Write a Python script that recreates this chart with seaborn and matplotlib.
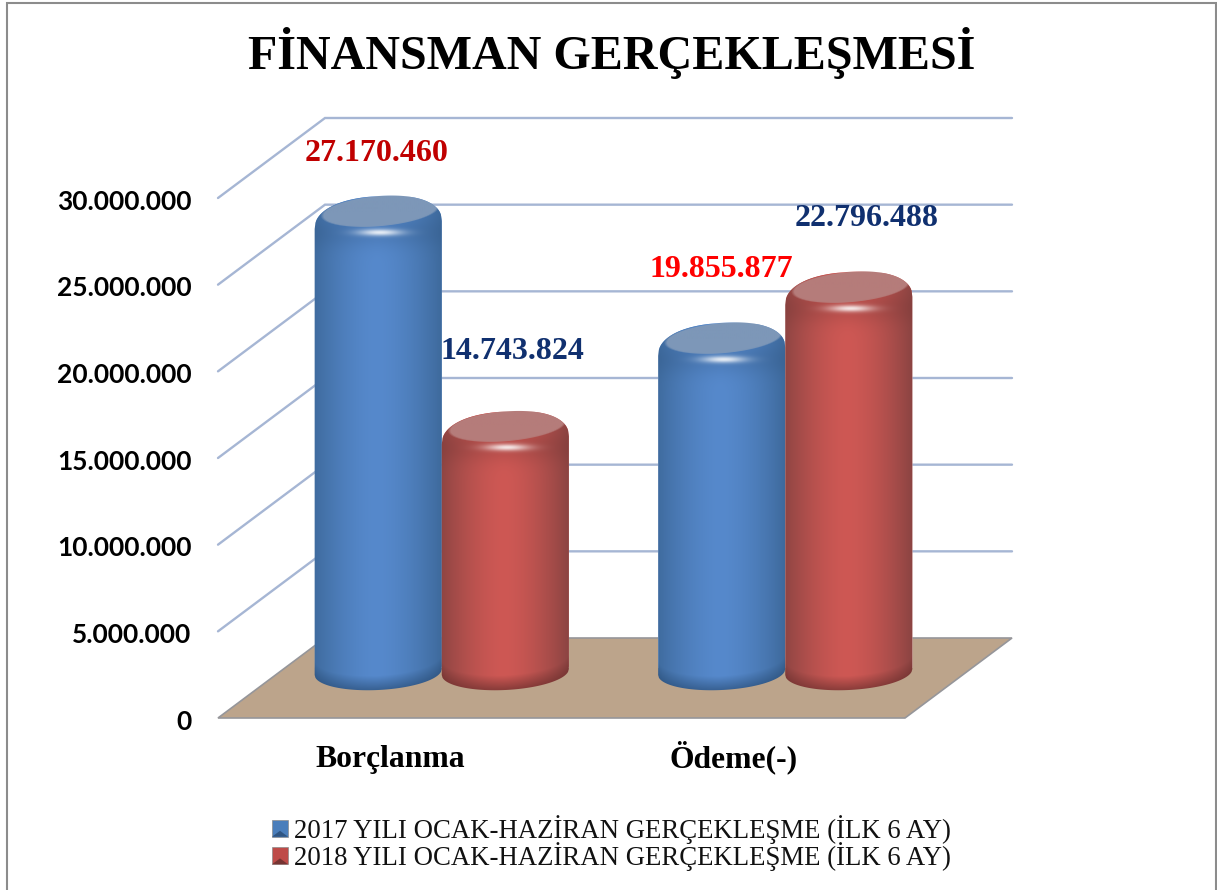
import numpy as np
import pandas as pd
import matplotlib
matplotlib.use("Agg")
import matplotlib.pyplot as plt
from matplotlib.legend_handler import HandlerBase
from matplotlib.lines import Line2D
from matplotlib.patches import Patch, Polygon
from matplotlib.path import Path
from matplotlib.ticker import FuncFormatter
from matplotlib.transforms import Affine2D
import seaborn as sns

categories = ['Borçlanma', 'Ödeme(-)']
series_names = ['2017 YILI OCAK-HAZİRAN GERÇEKLEŞME (İLK 6 AY)',
                '2018 YILI OCAK-HAZİRAN GERÇEKLEŞME (İLK 6 AY)']
values_2017 = [27170460, 19855877]
values_2018 = [14743824, 22796488]
y_ticks = [0, 5000000, 10000000, 15000000, 20000000, 25000000, 30000000]
title = 'FİNANSMAN GERÇEKLEŞMESİ'

W, H = 1217, 890
SERIF = 'Liberation Serif'

# 3d look, all in pixels
DEPTH = (107, -80)
BAR_SHIFT = (52, -51)
BASE_Y = 672

# bar order: 2017/cat0, 2018/cat0, 2017/cat1, 2018/cat1
label_colors = ['#c00000', '#10306f', '#ff0000', '#10306f']
label_offsets = [(-2, -43), (7, -60), (0, -53), (18, -53)]

blue = {'mid': '#5689cc', 'edge': '#3f6b9e', 'face': '#7d97b8', 'legend': '#4a7ebb', 'dark': '#2f5582'}
red = {'mid': '#ce5854', 'edge': '#8e4543', 'face': '#b57c7a', 'legend': '#be4b48', 'dark': '#763432'}


def money(v, pos=None):
    return f'{v:,.0f}'.replace(',', '.')


def rgb(c):
    return np.array(matplotlib.colors.to_rgb(c))


def outline(x0, x1, top):
    # rounded top and curved bottom of one cylinder, pixel coords
    u = np.linspace(-1, 1, 161)
    a = (x1 - x0) / 2
    cx = (x0 + x1) / 2
    p = 2.3
    top_y = top + 29 - 29 * (1 - np.abs(u) ** p) ** (1 / p) - 4 * u
    bot_y = BASE_Y + 18 * np.sqrt(1 - u ** 2) - 3 * u
    xs = cx + a * u
    pts = np.vstack([np.column_stack([xs, top_y]),
                     np.column_stack([xs[::-1], bot_y[::-1]])])
    return Path(np.vstack([pts, pts[0]]), closed=True)


def cylinder_image(x0, x1, top, pal):
    xs = np.arange(np.floor(x0), np.ceil(x1) + 1)
    ys = np.arange(top - 6, BASE_Y + 26)
    X, Y = np.meshgrid(xs, ys)
    cx = (x0 + x1) / 2
    a = (x1 - x0) / 2
    u = np.clip((X - cx) / a, -1, 1)

    # sideways shading
    mix = 1 - np.abs(u + 0.02) ** 1.6
    img = rgb(pal['edge'])[None, None] * (1 - mix[..., None]) + rgb(pal['mid'])[None, None] * mix[..., None]

    # darker towards the bottom edge
    bot_y = BASE_Y + 18 * np.sqrt(1 - u ** 2) - 3 * u
    k = np.clip((bot_y - Y) / 14, 0, 1)[..., None] * 0.75 + 0.25
    img = rgb(pal['dark'])[None, None] * (1 - k) + img * k

    # darker shoulder under the cap
    k = np.exp(-((Y - (top + 36)) / 15) ** 2)[..., None] * 0.25
    img = rgb(pal['dark'])[None, None] * k + img * (1 - k)

    # tilted top face
    ang = np.deg2rad(-5)
    dx, dy = X - (cx + 2), Y - (top + 14.5)
    rx = dx * np.cos(ang) + dy * np.sin(ang)
    ry = -dx * np.sin(ang) + dy * np.cos(ang)
    e = (rx / (a * 0.95)) ** 2 + (ry / 15.5) ** 2
    k = np.clip((1 - e) * 9, 0, 1)[..., None]
    img = rgb(pal['face'])[None, None] * k + img * (1 - k)

    # highlight below the face
    k = np.exp(-((X - (cx + 2)) / 22) ** 2 - ((Y - (top + 36)) / 3.4) ** 2)[..., None] * 0.85
    img = np.ones(3)[None, None] * k + img * (1 - k)
    return np.clip(img, 0, 1), (xs[0], xs[-1], ys[-1], ys[0])


class PyramidHandler(HandlerBase):
    def create_artists(self, legend, orig, xd, yd, w, h, fs, trans):
        base = orig.get_facecolor()
        sq = [(-xd, -yd), (-xd + w, -yd), (-xd + w, -yd + h), (-xd, -yd + h)]
        mid = (-xd + w / 2, -yd + h * 0.35)
        body = Polygon(sq, facecolor=base, edgecolor='#8c8c8c', lw=0.5, transform=trans)
        shade = Polygon([sq[0], sq[1], mid], facecolor=orig.get_edgecolor(), lw=0, transform=trans)
        return [body, shade]


sns.set_theme(style="white")
plt.rcParams['font.family'] = [SERIF, 'DejaVu Sans']

data = pd.DataFrame({
    'kategori': categories * 2,
    'seri': [series_names[0]] * 2 + [series_names[1]] * 2,
    'deger': values_2017 + values_2018,
})

fig = plt.figure(figsize=(W / 100, H / 100), dpi=100, facecolor='white')
ax = fig.add_axes([218 / W, (H - 718) / H, 687 / W, 520 / H])
ax.patch.set_visible(False)

# pixel coords with y going down
px = Affine2D().scale(1, -1).translate(0, H)

sns.barplot(data=data, x='kategori', y='deger', hue='seri', hue_order=series_names,
            palette=[blue['mid'], red['mid']], width=0.74, gap=0, errorbar=None,
            legend=False, saturation=1, ax=ax)
bars = sorted(ax.patches, key=lambda p: p.get_x())
ax.set_xlim(-0.5, 1.5)
ax.set_ylim(0, 30000000)
ax.set_xlabel('')
ax.set_ylabel('')
ax.set_yticks(y_ticks)
ax.yaxis.set_major_formatter(FuncFormatter(money))
ax.tick_params(axis='both', length=0)
ax.tick_params(axis='y', pad=19)
ax.tick_params(axis='x', pad=35.5)
for lab in ax.get_yticklabels():
    lab.set_family('Lato')
    lab.set_fontweight('bold')
    lab.set_fontsize(19)
    lab.set_color('black')
    lab.set_transform(lab.get_transform() + Affine2D().translate(0, -1.5))
for lab in ax.get_xticklabels():
    lab.set_family(SERIF)
    lab.set_fontweight('bold')
    lab.set_fontsize(22.8)
    lab.set_color('black')
    lab.set_va('baseline')
sns.despine(ax=ax, left=True, bottom=True)


def to_px(x, y):
    d = ax.transData.transform((x, y))
    return d[0], H - d[1]


# floor
x_l, y_0 = to_px(-0.5, 0)
x_r, _ = to_px(1.5, 0)
floor = [(x_l, y_0), (x_r, y_0), (x_r + DEPTH[0], y_0 + DEPTH[1]), (x_l + DEPTH[0], y_0 + DEPTH[1])]
ax.add_patch(Polygon(floor, closed=True, facecolor='#bca48b', edgecolor='#96969a', lw=1.2,
                     transform=px, clip_on=False, zorder=1))

# left wall lines and back wall lines
for tick in y_ticks[1:]:
    _, y_t = to_px(-0.5, tick)
    xs = [x_l, x_l + DEPTH[0], x_r + DEPTH[0]]
    ys = [y_t, y_t + DEPTH[1], y_t + DEPTH[1]]
    ax.add_line(Line2D(xs, ys, color='#a6b6d4', lw=1.7, transform=px, clip_on=False,
                       zorder=1, solid_joinstyle='miter'))

# bars
shift = Affine2D().translate(BAR_SHIFT[0], -BAR_SHIFT[1])
for i, bar in enumerate(bars):
    pal = blue if i % 2 == 0 else red
    x0, top = to_px(bar.get_x(), bar.get_height())
    x1, _ = to_px(bar.get_x() + bar.get_width(), 0)
    x0, x1, top = x0 + BAR_SHIFT[0], x1 + BAR_SHIFT[0], top + BAR_SHIFT[1]
    body = outline(x0, x1, top)

    bar.set_transform(ax.transData + shift)
    bar.set_zorder(3)
    bar.set_clip_box(fig.bbox)
    bar.set_clip_path(body, px)

    img, extent = cylinder_image(x0, x1, top, pal)
    im = ax.imshow(img, extent=extent, transform=px, aspect='auto', origin='upper',
                   interpolation='bilinear', zorder=4 + i)
    im.set_clip_box(fig.bbox)
    im.set_clip_path(body, px)

    dx, dy = label_offsets[i]
    ax.annotate(money(bar.get_height()), xy=(bar.get_x() + bar.get_width() / 2, bar.get_height()),
                xycoords='data', xytext=(BAR_SHIFT[0] + dx, -BAR_SHIFT[1] - dy),
                textcoords='offset pixels', ha='center', va='center', family=SERIF,
                fontweight='bold', fontsize=23, color=label_colors[i], zorder=10,
                annotation_clip=False)

ax.set_xlim(-0.5, 1.5)
ax.set_ylim(0, 30000000)
ax.set_aspect('auto')

# title
fig.text(612 / W, 1 - 69 / H, title, ha='center', va='baseline', family=SERIF,
         fontweight='bold', fontsize=34.6, color='black')

# legend
handles = [Patch(facecolor=blue['legend'], edgecolor=blue['dark'], label=series_names[0]),
           Patch(facecolor=red['legend'], edgecolor=red['dark'], label=series_names[1])]
leg = ax.legend(handles=handles, loc='center left', bbox_to_anchor=(272, 843),
                bbox_transform=px, frameon=False, fontsize=19.25, borderpad=0, borderaxespad=0,
                handlelength=0.6, handleheight=0.6, handletextpad=0.22, labelspacing=-0.05,
                handler_map={Patch: PyramidHandler()})
for t in leg.get_texts():
    t.set_color('#111111')
    t.set_family(SERIF)

# chart frame
fig.add_artist(Line2D([6.5, 6.5, 1215.5, 1215.5], [H, 2.5, 2.5, H], color='#8c8c8c', lw=1.5,
                      transform=px, solid_joinstyle='miter'))

fig.savefig('out.png', dpi=100, facecolor='white')
